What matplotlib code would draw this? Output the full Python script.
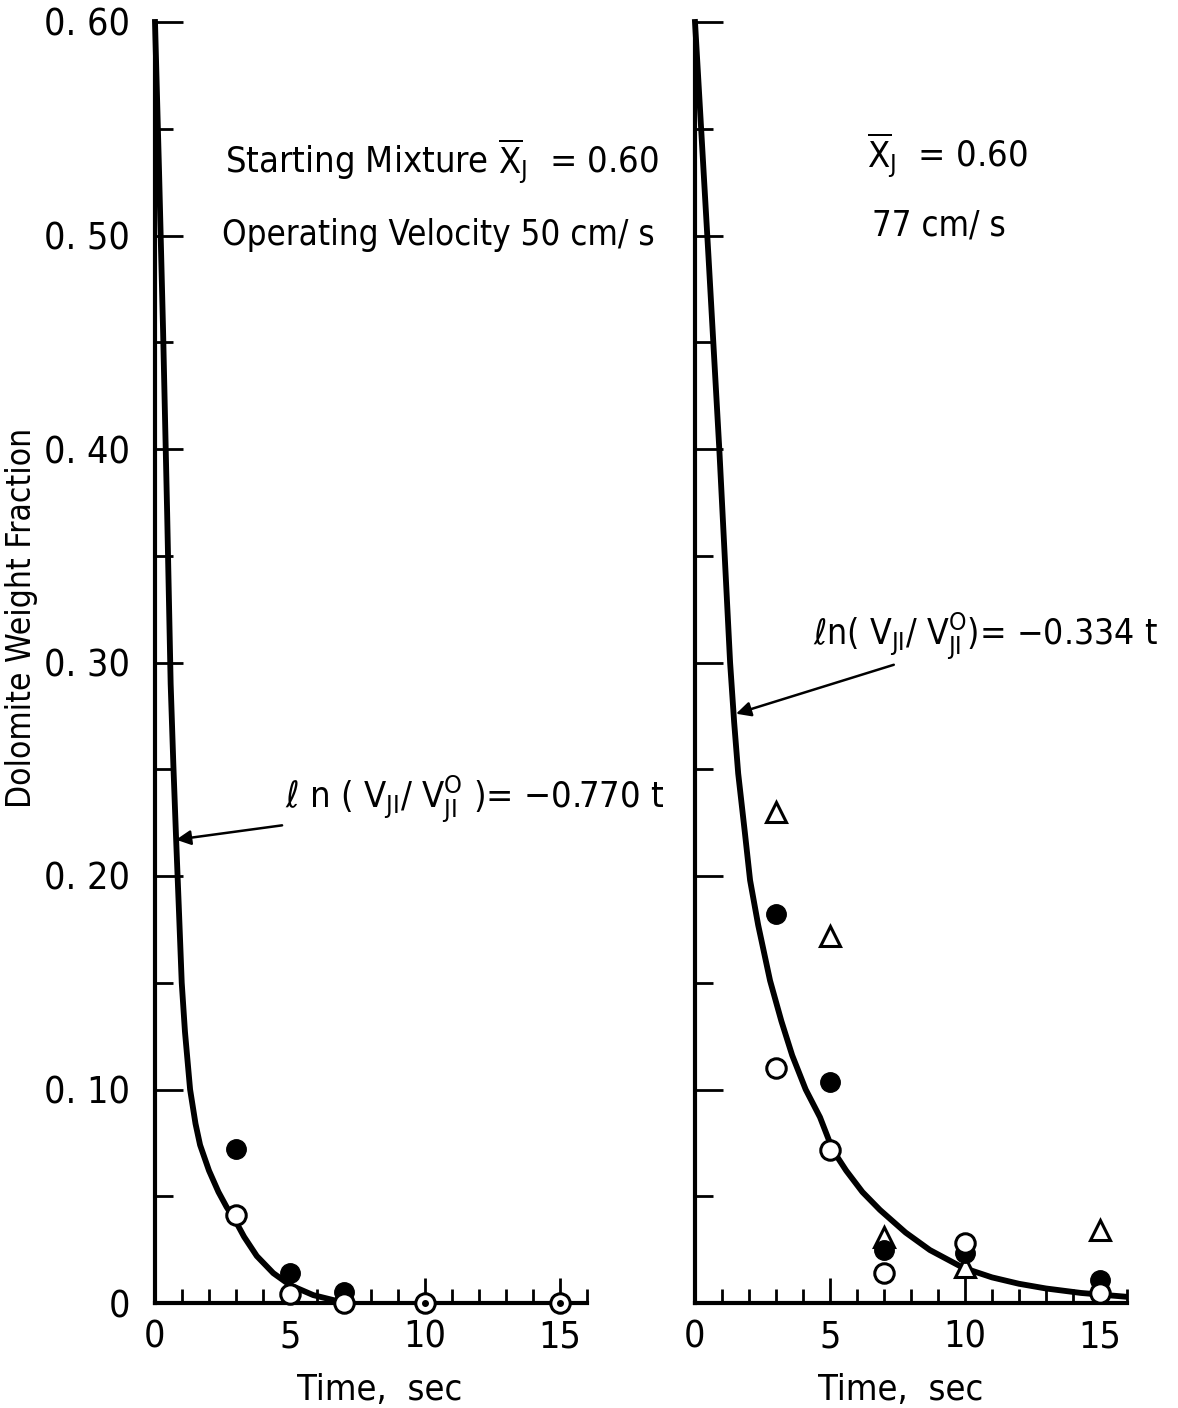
import numpy as np
import matplotlib
matplotlib.use("Agg")
import matplotlib.pyplot as plt
import matplotlib.font_manager as fm
from matplotlib.ticker import MultipleLocator, FixedLocator

# pick a narrow sans if one is installed, else Liberation Sans
names = {f.name for f in fm.fontManager.ttflist}
cond = [f for f in fm.fontManager.ttflist
        if ('Condensed' in f.fname or 'Narrow' in f.fname) and 'Bold' not in f.fname
        and 'Oblique' not in f.fname and 'Italic' not in f.fname]
if 'Liberation Sans Narrow' in names:
    base = 'Liberation Sans Narrow'
    stretch = 'normal'
elif cond:
    base = cond[0].name
    stretch = 'condensed'
else:
    base = 'Liberation Sans'
    stretch = 'normal'

plt.rcParams['font.family'] = [base, 'DejaVu Sans']
plt.rcParams['font.stretch'] = stretch
plt.rcParams['mathtext.fontset'] = 'custom'
plt.rcParams['mathtext.rm'] = base
plt.rcParams['mathtext.it'] = base + ':italic'
MINUS = "\u2212"

# fitted curves (time in s, weight fraction)
left_curve_t = [0, 0.15, 0.30, 0.45, 0.58, 0.68, 0.78, 0.88, 0.99, 1.11, 1.30, 1.50, 1.67, 2.0, 2.35,
                2.65, 3.0, 3.3, 3.77, 4.38, 5.0, 5.86, 6.85, 7.0]
left_curve_v = [0.60, 0.53, 0.455, 0.37, 0.29, 0.252, 0.218, 0.186, 0.150, 0.127, 0.100, 0.084, 0.074,
                0.062, 0.052, 0.045, 0.038, 0.031, 0.022, 0.014, 0.0084, 0.0037, 0.0006, 0.0]

right_curve_t = [0, 0.25, 0.5, 0.7, 0.9, 1.1, 1.3, 1.45, 1.6, 1.85, 2.04, 2.34, 2.78, 3.2, 3.6, 4.1, 4.63,
                 5.1, 5.6, 6.2, 6.85, 7.8, 8.7, 9.93, 11.0, 12.0, 13.0, 14.3, 15.9]
right_curve_v = [0.60, 0.545, 0.49, 0.445, 0.40, 0.35, 0.30, 0.272, 0.248, 0.220, 0.198, 0.177, 0.151,
                 0.132, 0.116, 0.100, 0.087, 0.0717, 0.062, 0.052, 0.0436, 0.033, 0.0248, 0.0165,
                 0.012, 0.009, 0.0068, 0.0047, 0.003]

# measured points, 50 cm/s
left_filled_t = [3, 5, 7]
left_filled_v = [0.072, 0.014, 0.005]
left_open_t = [3, 5, 7, 10, 15]
left_open_v = [0.041, 0.004, 0.0, 0.0, 0.0]
left_dot_t = [10, 15]
left_dot_v = [0.0, 0.0]

# measured points, 77 cm/s
right_tri_t = [3, 5, 7, 10, 15]
right_tri_v = [0.230, 0.172, 0.031, 0.017, 0.034]
right_filled_t = [3, 5, 7, 10, 15]
right_filled_v = [0.182, 0.1035, 0.025, 0.0234, 0.0108]
right_open_t = [3, 5, 7, 10, 15]
right_open_v = [0.110, 0.0717, 0.014, 0.028, 0.0047]

y_ticks = [0, 0.10, 0.20, 0.30, 0.40, 0.50, 0.60]
y_labels = ["0", "0. 10", "0. 20", "0. 30", "0. 40", "0. 50", "0. 60"]
x_ticks = [0, 5, 10, 15]
x_labels = ["0", "5", "10", "15"]

W, H = 1178, 1408
fig = plt.figure(figsize=(W / 100, H / 100), dpi=100)
axL = fig.add_axes([155 / W, 105 / H, 432 / W, 1281 / H])
axR = fig.add_axes([695 / W, 105 / H, 432 / W, 1281 / H])

for ax in (axL, axR):
    ax.set_xlim(0, 16)
    ax.set_ylim(0, 0.60)
    ax.spines['top'].set_visible(False)
    ax.spines['right'].set_visible(False)
    ax.spines['left'].set_linewidth(3)
    ax.spines['bottom'].set_linewidth(3)
    ax.yaxis.set_major_locator(FixedLocator(y_ticks))
    ax.yaxis.set_minor_locator(MultipleLocator(0.05))
    ax.xaxis.set_major_locator(FixedLocator(x_ticks))
    ax.xaxis.set_minor_locator(FixedLocator(list(range(1, 17))))
    ax.tick_params(axis='both', which='both', direction='in', width=2, color='black')
    ax.tick_params(axis='y', which='major', length=20)
    ax.tick_params(axis='y', which='minor', length=13)
    ax.tick_params(axis='x', which='major', length=18, labelsize=27, pad=12)
    ax.tick_params(axis='x', which='minor', length=10)
    ax.set_xticklabels(x_labels)
    ax.set_xlabel("Time,  sec", fontsize=26)
    ax.xaxis.set_label_coords(0.52, -0.055)

axL.set_yticklabels(y_labels)
axL.tick_params(axis='y', which='major', labelsize=27, pad=18)
axR.set_yticklabels([])
axR.xaxis.set_label_coords(0.475, -0.055)

fig.text(22 / W, 1 - 618 / H, "Dolomite Weight Fraction", rotation=90,
         ha='center', va='center', fontsize=24)

ms = 14
mew = 2.2
axL.plot(left_curve_t, left_curve_v, color='black', lw=4.2, solid_joinstyle='round', clip_on=False)
axL.plot(left_filled_t, left_filled_v, 'o', ms=ms, color='black', clip_on=False, zorder=5)
axL.plot(left_open_t, left_open_v, 'o', ms=ms, mfc='white', mec='black', mew=mew, clip_on=False, zorder=6)
axL.plot(left_dot_t, left_dot_v, 'o', ms=4, color='black', clip_on=False, zorder=7)

axR.plot(right_curve_t, right_curve_v, color='black', lw=4.2, solid_joinstyle='round', clip_on=False)
axR.plot(right_tri_t, right_tri_v, '^', ms=ms, mfc='white', mec='black', mew=mew, clip_on=False, zorder=5)
axR.plot(right_filled_t, right_filled_v, 'o', ms=ms, color='black', clip_on=False, zorder=6)
axR.plot(right_open_t, right_open_v, 'o', ms=ms, mfc='white', mec='black', mew=mew, clip_on=False, zorder=7)

axL.text(2.6, 0.529, r"Starting Mixture $\overline{\rm X}_{\rm J}$  = 0.60", fontsize=26, va='baseline')
axL.text(2.48, 0.4955, "Operating Velocity 50 cm/ s", fontsize=25, va='baseline')
axR.text(6.37, 0.5316, r"$\overline{\rm X}_{\rm J}$  = 0.60", fontsize=26, va='baseline')
axR.text(6.56, 0.4998, "77 cm/ s", fontsize=25, va='baseline')

label_l = r"$\ell$ n ( V$_{\rm JI}$/ V$_{\rm JI}^{\rm O}$ )= " + MINUS + "0.770 t"
label_r = r"$\ell$n( V$_{\rm JI}$/ V$_{\rm JI}^{\rm O}$)= " + MINUS + "0.334 t"
axL.annotate(label_l, xy=(0.78, 0.217), xytext=(4.81, 0.2319), fontsize=26, va='baseline',
             arrowprops=dict(arrowstyle='-|>', color='black', lw=1.8, mutation_scale=22,
                             shrinkA=0, shrinkB=0))
axR.annotate(label_r, xy=(1.52, 0.276), xytext=(4.37, 0.3082), fontsize=25.5, va='baseline',
             annotation_clip=False,
             arrowprops=dict(arrowstyle='-|>', color='black', lw=1.8, mutation_scale=22,
                             shrinkA=0, shrinkB=0))

fig.savefig("out.png", dpi=100)
